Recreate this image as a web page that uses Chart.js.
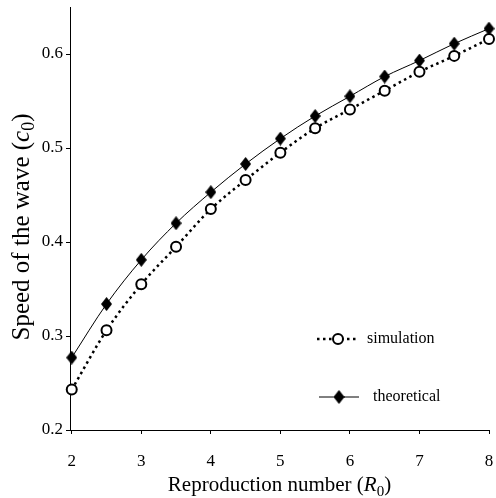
<!DOCTYPE html>
<html><head><meta charset="utf-8">
<script src="https://cdn.jsdelivr.net/npm/chart.js@4/dist/chart.umd.min.js"></script>
<style>html,body{margin:0;padding:0;background:#fff}#wrap{width:496px;height:498px;position:relative}</style>
</head><body><div id="wrap"><canvas id="c"></canvas></div>
<script>
const reproductionNumbers = [2, 2.5, 3, 3.5, 4, 4.5, 5, 5.5, 6, 6.5, 7, 7.5, 8];
const simulation  = [0.243, 0.306, 0.355, 0.395, 0.435, 0.466, 0.495, 0.521, 0.541, 0.561, 0.581, 0.598, 0.616];
const theoretical = [0.277, 0.334, 0.381, 0.420, 0.453, 0.483, 0.510, 0.534, 0.555, 0.576, 0.593, 0.611, 0.627];
const xTicks = [2, 3, 4, 5, 6, 7, 8];
const yTicks = [0.2, 0.3, 0.4, 0.5, 0.6];
const seriesNames = ['simulation', 'theoretical'];
const xTitleParts = [{t: 'Reproduction number ('}, {t: 'R', italic: true}, {t: '0', sub: true}, {t: ')'}];
const yTitleParts = [{t: 'Speed of the wave ('}, {t: 'c', italic: true}, {t: '0', sub: true}, {t: ')'}];

const FONT = 'Liberation Serif';

function diamond(w, h) {
  const c = document.createElement('canvas');
  c.width = w; c.height = h;
  const g = c.getContext('2d');
  g.fillStyle = '#000';
  g.beginPath();
  g.moveTo(w / 2, 0); g.lineTo(w, h / 2); g.lineTo(w / 2, h); g.lineTo(0, h / 2);
  g.closePath(); g.fill();
  return c;
}
const diamondImg = diamond(11, 14);

function drawRich(ctx, parts, size, cx, cy, rotate) {
  ctx.save();
  ctx.translate(cx, cy);
  if (rotate) ctx.rotate(-Math.PI / 2);
  ctx.fillStyle = '#000';
  ctx.textBaseline = 'alphabetic';
  ctx.textAlign = 'left';
  const fonts = parts.map(p => (p.italic ? 'italic ' : '') + (p.sub ? Math.round(size * 0.7) : size) + 'px "' + FONT + '"');
  let total = 0;
  const widths = parts.map((p, i) => { ctx.font = fonts[i]; const w = ctx.measureText(p.t).width; total += w; return w; });
  let x = -total / 2;
  const base = size * 0.35;
  parts.forEach((p, i) => {
    ctx.font = fonts[i];
    ctx.fillText(p.t, x, base + (p.sub ? size * 0.22 : 0));
    x += widths[i];
  });
  ctx.restore();
}

const extras = {
  id: 'extras',
  afterDraw(chart) {
    const ctx = chart.ctx;
    const ca = chart.chartArea;
    drawRich(ctx, xTitleParts, 21, (ca.left + ca.right) / 2, 484, false);
    drawRich(ctx, yTitleParts, 25, 20, 227, true);
    // legend
    const ds = chart.data.datasets;
    ctx.save();
    ctx.strokeStyle = '#000';
    ctx.lineWidth = ds[0].borderWidth;
    ctx.setLineDash(ds[0].borderDash);
    ctx.beginPath(); ctx.moveTo(317, 339); ctx.lineTo(358, 339); ctx.stroke();
    ctx.setLineDash([]);
    ctx.fillStyle = '#fff';
    ctx.lineWidth = ds[0].pointBorderWidth;
    ctx.beginPath(); ctx.arc(338, 339, ds[0].pointRadius, 0, Math.PI * 2); ctx.fill(); ctx.stroke();
    ctx.lineWidth = ds[1].borderWidth;
    ctx.beginPath(); ctx.moveTo(319, 397); ctx.lineTo(359, 397); ctx.stroke();
    ctx.drawImage(diamondImg, 339 - diamondImg.width / 2, 397 - diamondImg.height / 2);
    ctx.fillStyle = '#000';
    ctx.font = '16px "' + FONT + '"';
    ctx.textBaseline = 'middle';
    ctx.fillText(seriesNames[0], 367, 339);
    ctx.fillText(seriesNames[1], 373, 397);
    ctx.restore();
  }
};

new Chart(document.getElementById('c'), {
  type: 'line',
  data: {
    datasets: [
      {
        label: seriesNames[0],
        data: reproductionNumbers.map((x, i) => ({x, y: simulation[i]})),
        borderColor: '#000', borderWidth: 2.5, borderDash: [2.5, 3.5],
        pointStyle: 'circle', pointRadius: 5, pointBorderWidth: 2,
        pointBackgroundColor: '#fff', pointBorderColor: '#000',
        cubicInterpolationMode: 'monotone', fill: false, clip: false, order: 1
      },
      {
        label: seriesNames[1],
        data: reproductionNumbers.map((x, i) => ({x, y: theoretical[i]})),
        borderColor: '#000', borderWidth: 1,
        pointStyle: diamondImg, pointRadius: 6,
        cubicInterpolationMode: 'monotone', fill: false, clip: false, order: 2
      }
    ]
  },
  options: {
    responsive: true, maintainAspectRatio: false, animation: false, devicePixelRatio: 1,
    events: [],
    layout: {padding: {top: 7, right: 4, left: 0, bottom: 0}},
    plugins: {legend: {display: false}, tooltip: {enabled: false}},
    scales: {
      x: {
        type: 'linear', min: 1.975, max: 8,
        afterBuildTicks: s => { s.ticks = xTicks.map(v => ({value: v})); },
        afterFit: s => { s.height = 68; s.paddingLeft = 0; s.paddingRight = 0; },
        grid: {drawOnChartArea: false, color: '#000', tickLength: 4},
        border: {color: '#000', width: 1},
        ticks: {color: '#000', font: {family: FONT, size: 17}, padding: 17, maxRotation: 0, autoSkip: false}
      },
      y: {
        type: 'linear', min: 0.2, max: 0.65,
        afterBuildTicks: s => { s.ticks = yTicks.map(v => ({value: v})); },
        afterFit: s => { s.width = 70; s.paddingTop = 0; s.paddingBottom = 0; },
        grid: {drawOnChartArea: false, color: '#000', tickLength: 4},
        border: {color: '#000', width: 1},
        ticks: {color: '#000', font: {family: FONT, size: 17}, padding: 3, callback: v => v.toFixed(1)}
      }
    }
  },
  plugins: [extras]
});
</script>
</body></html>
